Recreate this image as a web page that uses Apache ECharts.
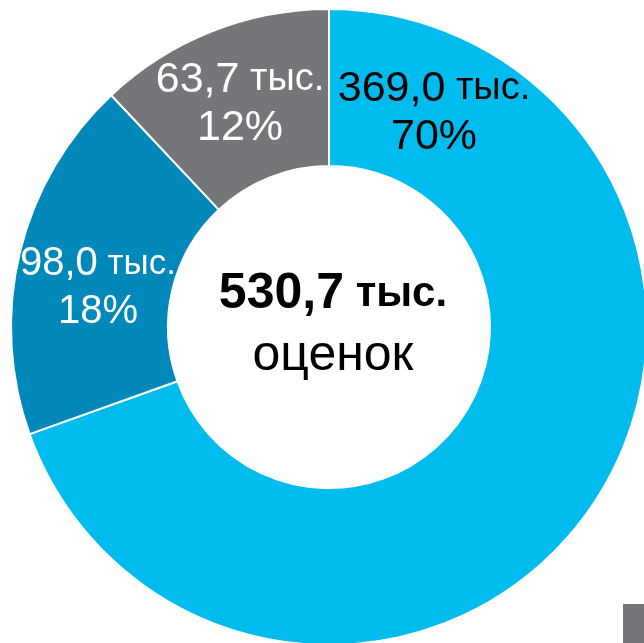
<!DOCTYPE html>
<html>
<head>
<meta charset="utf-8">
<script src="https://cdn.jsdelivr.net/npm/echarts@6/dist/echarts.min.js"></script>
<style>
  html, body { margin: 0; padding: 0; background: #fff; }
  #chart { width: 644px; height: 643px; }
</style>
</head>
<body>
<div id="chart"></div>
<script>
// values in thousands of ratings, clockwise from 12 o'clock
const names = ['A', 'B', 'C']
const values = [369.0, 98.0, 63.7]
const colors = ['#00BCEE', '#0088BA', '#75767A']
const labelColors = ['#000', '#fff', '#fff']
const unit = 'тыс.'
const centerWord = 'оценок'

// where each slice label sits (label centres, px) and its number font size
const labelPos = [[434, 113], [98, 288], [240, 104]]
const labelSize = [43, 40, 43]

const total = values.reduce((a, b) => a + b, 0)
const fmt = v => v.toFixed(1).replace('.', ',')

const chart = echarts.init(document.getElementById('chart'), null, { renderer: 'canvas' })

const sliceRich = (color, size) => ({
  n: { color: color, fontSize: size, lineHeight: 48, fontFamily: 'Liberation Sans' },
  u: { color: color, fontSize: Math.round(size * 0.88), lineHeight: 48, fontFamily: 'Liberation Sans' }
})

chart.setOption({
  animation: false,
  backgroundColor: '#fff',
  series: [
    {
      type: 'pie',
      center: [329, 327],
      radius: [161, 318],
      startAngle: 90,
      clockwise: true,
      avoidLabelOverlap: false,
      itemStyle: {
        borderColor: '#fff',
        borderWidth: 2
      },
      label: {
        show: true,
        position: 'inside',
        formatter: p => '{n|' + fmt(p.value) + '}{u| ' + unit + '}\n{n|' + Math.round(p.percent) + '%}'
      },
      labelLine: { show: false },
      labelLayout: p => ({
        x: labelPos[p.dataIndex][0],
        y: labelPos[p.dataIndex][1],
        align: 'center',
        verticalAlign: 'middle'
      }),
      data: values.map((v, i) => ({
        name: names[i],
        value: v,
        itemStyle: { color: colors[i] },
        label: { rich: sliceRich(labelColors[i], labelSize[i]) }
      }))
    }
  ],
  graphic: [
    {
      type: 'text',
      x: 333,
      y: 325,
      style: {
        text: '{b|' + fmt(total) + '}{bu| ' + unit + '}\n{o|' + centerWord + '}',
        align: 'center',
        verticalAlign: 'middle',
        rich: {
          b: { fontFamily: 'Liberation Sans', fontWeight: 'bold', fontSize: 50, lineHeight: 62, fill: '#000' },
          bu: { fontFamily: 'Liberation Sans', fontWeight: 'bold', fontSize: 42, lineHeight: 62, fill: '#000' },
          o: { fontFamily: 'Liberation Sans', fontSize: 50, lineHeight: 62, fill: '#000' }
        }
      }
    },
    {
      type: 'rect',
      shape: { x: 623, y: 604, width: 21, height: 39 },
      style: { fill: '#75767A' }
    }
  ]
})
</script>
</body>
</html>
